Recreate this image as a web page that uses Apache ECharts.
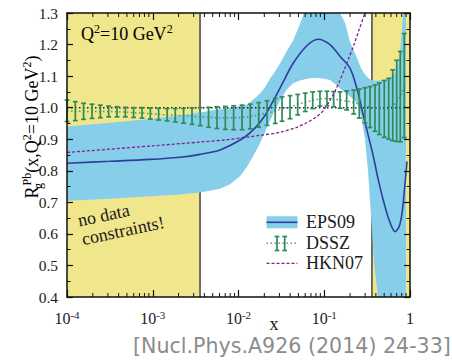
<!DOCTYPE html>
<html><head><meta charset="utf-8">
<script src="https://cdn.jsdelivr.net/npm/echarts@6/dist/echarts.min.js"></script>
<style>html,body{margin:0;padding:0;background:#fff}#c{width:452px;height:360px}</style>
</head><body><div id="c"></div>
<script>
// ---------------- data ----------------
// EPS09 uncertainty band
const bandX = [1e-4, 3.17e-4, 9.29e-4, 2.08e-3, 3.56e-3, 6.08e-3, 7.96e-3, 0.0104, 0.01256, 0.01476,
  0.01782, 0.02037, 0.0233, 0.02664, 0.03047, 0.0368, 0.04321, 0.05216, 0.05966, 0.06823,
  0.08228, 0.09923, 0.1167, 0.1371, 0.1525, 0.1744, 0.1995, 0.2283, 0.2408, 0.2683,
  0.2986, 0.3236, 0.3508, 0.3802, 0.4238, 0.4712, 0.5248, 0.5842, 0.6501, 0.7239,
  0.764, 0.8068, 0.829, 0.875, 0.898];
const bandLower = [0.705, 0.711, 0.719, 0.725, 0.731, 0.743, 0.757, 0.783, 0.813, 0.845,
  0.887, 0.922, 0.958, 0.993, 1.022, 1.058, 1.077, 1.086, 1.090, 1.093,
  1.094, 1.092, 1.088, 1.073, 1.061, 1.048, 1.035, 1.022, 1.015, 0.975,
  0.900, 0.800, 0.660, 0.510, 0.400, 0.330, 0.300, 0.300, 0.300, 0.300,
  0.300, 0.300, 0.300, 0.300, 0.300];
const bandUpper = [0.940, 0.952, 0.964, 0.976, 0.985, 0.995, 1.000, 1.005, 1.010, 1.024,
  1.045, 1.065, 1.092, 1.115, 1.140, 1.180, 1.212, 1.265, 1.310, 1.350,
  1.380, 1.380, 1.360, 1.320, 1.300, 1.270, 1.209, 1.172, 1.158, 1.125,
  1.105, 1.095, 1.088, 1.085, 1.086, 1.088, 1.090, 1.095, 1.105, 1.140,
  1.175, 1.250, 1.300, 1.400, 1.450];
// EPS09 central value
const eps09X = [1e-4, 3.17e-4, 9.29e-4, 2.08e-3, 3.56e-3, 6.08e-3, 0.01127, 0.01556, 0.02037, 0.02523,
  0.03302, 0.04321, 0.06295, 0.08459, 0.1167, 0.1525, 0.1995, 0.2408, 0.2830, 0.3236,
  0.3705, 0.4238, 0.4846, 0.5690, 0.6683, 0.7443, 0.8068, 0.8750, 0.9230];
const eps09Y = [0.824, 0.830, 0.836, 0.843, 0.852, 0.866, 0.903, 0.935, 0.975, 1.020,
  1.080, 1.140, 1.197, 1.217, 1.200, 1.163, 1.125, 1.060, 0.980, 0.915,
  0.850, 0.775, 0.710, 0.645, 0.607, 0.622, 0.665, 0.760, 0.830];
// DSSZ central value and error bars
const dsszX = [1e-4, 1.25e-4, 1.56e-4, 1.96e-4, 2.45e-4, 3.06e-4, 3.83e-4, 4.79e-4, 5.98e-4, 7.5e-4,
  9.36e-4, 1.17e-3, 1.47e-3, 1.83e-3, 2.29e-3, 2.87e-3, 3.58e-3, 4.48e-3, 5.61e-3, 7.02e-3,
  8.77e-3, 0.011, 0.0137, 0.0172, 0.0215, 0.0268, 0.0322, 0.0399, 0.049, 0.0601,
  0.0733, 0.0891, 0.1076, 0.1288, 0.1527, 0.1827, 0.2205, 0.2562, 0.2986, 0.3417,
  0.3908, 0.4385, 0.5012, 0.5645, 0.6288, 0.6998, 0.7705, 0.857];
const dsszY = [0.990, 0.989, 0.988, 0.988, 0.988, 0.988, 0.987, 0.986, 0.984, 0.983,
  0.981, 0.979, 0.977, 0.976, 0.974, 0.973, 0.971, 0.970, 0.968, 0.968,
  0.968, 0.969, 0.972, 0.977, 0.983, 0.990, 0.996, 1.002, 1.010, 1.017,
  1.023, 1.028, 1.029, 1.027, 1.024, 1.021, 1.016, 1.012, 1.007, 1.002,
  0.998, 0.997, 0.996, 0.997, 1.005, 1.020, 1.035, 1.070];
const dsszLow = [0.956, 0.959, 0.963, 0.966, 0.968, 0.971, 0.971, 0.971, 0.969, 0.967,
  0.964, 0.961, 0.958, 0.955, 0.951, 0.947, 0.943, 0.938, 0.934, 0.931,
  0.930, 0.930, 0.933, 0.938, 0.944, 0.950, 0.957, 0.965, 0.977, 0.988,
  0.997, 1.005, 1.006, 1.003, 0.998, 0.993, 0.980, 0.967, 0.952, 0.937,
  0.925, 0.915, 0.906, 0.900, 0.895, 0.893, 0.892, 0.905];
const dsszHigh = [1.024, 1.019, 1.014, 1.011, 1.008, 1.005, 1.003, 1.001, 1.000, 1.000,
  0.999, 0.998, 0.997, 0.997, 0.998, 0.999, 1.000, 1.001, 1.003, 1.004,
  1.006, 1.008, 1.011, 1.016, 1.022, 1.029, 1.034, 1.038, 1.042, 1.046,
  1.050, 1.052, 1.052, 1.051, 1.050, 1.053, 1.056, 1.059, 1.063, 1.067,
  1.072, 1.078, 1.086, 1.093, 1.120, 1.150, 1.178, 1.235];
// HKN07
const hknX = [1e-4, 1e-3, 3.56e-3, 7.14e-3, 0.01734, 0.0305, 0.0469, 0.063, 0.0803, 0.0969,
  0.1138, 0.1334, 0.1485, 0.1698, 0.1944, 0.2223, 0.2541, 0.3068, 0.3604];
const hknY = [0.858, 0.879, 0.891, 0.898, 0.912, 0.922, 0.937, 0.953, 0.970, 0.990,
  1.018, 1.052, 1.080, 1.118, 1.158, 1.200, 1.246, 1.310, 1.370];
// regions without data constraints (x ranges)
const noDataRegions = [[1e-4, 0.00356], [0.36, 1]];
const refLineY = [1.0];
// axes
const xMin = 1e-4, xMax = 1;
const yMin = 0.4, yMax = 1.3, yStep = 0.1;
const xMinorTicks = [2e-4,3e-4,4e-4,5e-4,6e-4,7e-4,8e-4,9e-4,
  2e-3,3e-3,4e-3,5e-3,6e-3,7e-3,8e-3,9e-3,
  2e-2,3e-2,4e-2,5e-2,6e-2,7e-2,8e-2,9e-2,
  0.2,0.3,0.4,0.5,0.6,0.7,0.8,0.9];
const legendNames = ['EPS09', 'DSSZ', 'HKN07'];

// ---------------- style ----------------
const SERIF = '"Liberation Serif", "DejaVu Serif", serif';
const C_YELLOW = '#f0e68c', C_BAND = '#87ceeb', C_EPS = '#2f3e9c', C_DSSZ = '#2e8b57', C_HKN = '#8b1a8b';
const TXT = '#1a1a1a';

const chart = echarts.init(document.getElementById('c'), null, {renderer: 'svg'});

function xLabelFmt(v) {
  const e = Math.round(Math.log10(v));
  if (e === 0) return '{m|1}';
  return '{m|10}{s|' + e + '}';
}
const xRich = {
  m: {fontFamily: SERIF, fontSize: 16, color: TXT, verticalAlign: 'bottom', lineHeight: 18},
  s: {fontFamily: SERIF, fontSize: 11, color: TXT, verticalAlign: 'bottom', lineHeight: 18, padding: [0, 0, 6, 0]}
};
const axLine = {show: true, lineStyle: {color: '#111', width: 1.5}};
const xTick = {show: true, inside: true, length: 7, lineStyle: {color: '#111', width: 1.2}};
const yTick = {show: true, inside: true, length: 6, lineStyle: {color: '#111', width: 1.2}};
const yMinor = {show: true, splitNumber: 2, length: 3.5, lineStyle: {color: '#111', width: 1}};

const serifRich = {
  m: {fontFamily: SERIF, fontSize: 18, color: TXT, verticalAlign: 'bottom', lineHeight: 22},
  sup: {fontFamily: SERIF, fontSize: 12, color: TXT, verticalAlign: 'bottom', lineHeight: 22, padding: [0, 0, 8, 0]},
  sub: {fontFamily: SERIF, fontSize: 12, color: TXT, verticalAlign: 'bottom', lineHeight: 22, width: 1, padding: [0, 0, -3, 0]}
};

const option = {
  animation: false,
  backgroundColor: '#fff',
  grid: {left: 67, right: 42, top: 13, bottom: 63},
  xAxis: [
    {type: 'log', logBase: 10, min: xMin, max: xMax, position: 'bottom', z: 10,
      axisLine: axLine, axisTick: xTick, splitLine: {show: false},
      axisLabel: {formatter: xLabelFmt, rich: xRich, margin: 11, showMinLabel: true, showMaxLabel: true}},
    {type: 'log', logBase: 10, min: xMin, max: xMax, position: 'top', z: 10,
      axisLine: axLine, axisTick: xTick, splitLine: {show: false}, axisLabel: {show: false}}
  ],
  yAxis: [
    {type: 'value', min: yMin, max: yMax, interval: yStep, position: 'left', z: 10,
      axisLine: axLine, axisTick: yTick, minorTick: yMinor, splitLine: {show: false},
      axisLabel: {formatter: v => v.toFixed(1), fontFamily: SERIF, fontSize: 15.5, color: TXT, margin: 9}},
    {type: 'value', min: yMin, max: yMax, interval: yStep, position: 'right', z: 10,
      axisLine: axLine, axisTick: yTick, minorTick: yMinor, splitLine: {show: false},
      axisLabel: {show: false}}
  ],
  series: [
    { // yellow "no data" regions
      type: 'custom', name: 'noData', z: 1, silent: true,
      data: noDataRegions.map(r => [r[0], r[1]]),
      encode: {x: [0, 1]},
      renderItem(params, api) {
        const x0 = api.value(0), x1 = api.value(1);
        const p0 = api.coord([x0, yMax]), p1 = api.coord([x1, yMin]);
        const children = [{type: 'rect', shape: {x: p0[0], y: p0[1], width: p1[0] - p0[0], height: p1[1] - p0[1]},
          style: {fill: C_YELLOW}}];
        if (x0 > xMin) children.push({type: 'line', shape: {x1: p0[0], y1: p0[1], x2: p0[0], y2: p1[1]}, style: {stroke: '#444', lineWidth: 1.5}});
        if (x1 < xMax) children.push({type: 'line', shape: {x1: p1[0], y1: p0[1], x2: p1[0], y2: p1[1]}, style: {stroke: '#444', lineWidth: 1.5}});
        return {type: 'group', children};
      }
    },
    { // EPS09 band
      type: 'custom', name: 'EPS09 band', z: 2, silent: true, clip: true,
      data: bandX.map((x, i) => [x, bandLower[i], bandUpper[i]]),
      encode: {x: 0, y: [1, 2]},
      renderItem(params, api) {
        if (params.dataIndex !== 0) return;
        const pts = [];
        for (let i = 0; i < bandX.length; i++) pts.push(api.coord([bandX[i], bandUpper[i]]));
        for (let i = bandX.length - 1; i >= 0; i--) pts.push(api.coord([bandX[i], bandLower[i]]));
        const cs = params.coordSys;
        return {type: 'polygon', shape: {points: pts}, style: {fill: C_BAND},
          clipPath: {type: 'rect', shape: {x: cs.x, y: cs.y, width: cs.width, height: cs.height}}};
      }
    },
    { // reference line at 1
      type: 'line', name: 'ref', z: 3, silent: true, symbol: 'none',
      data: [[xMin, refLineY[0]], [xMax, refLineY[0]]],
      lineStyle: {color: '#222', width: 1.5, type: [1.5, 2.5]}
    },
    { // EPS09 central
      type: 'line', name: 'EPS09', z: 4, symbol: 'none', smooth: 0.3, clip: true,
      data: eps09X.map((x, i) => [x, eps09Y[i]]),
      lineStyle: {color: C_EPS, width: 1.6}
    },
    { // DSSZ central
      type: 'line', name: 'DSSZ', z: 5, symbol: 'none', smooth: 0.3, clip: true,
      data: dsszX.map((x, i) => [x, dsszY[i]]),
      lineStyle: {color: C_DSSZ, width: 1.5, type: [1.5, 2.5], opacity: 0.8}
    },
    { // DSSZ error bars
      type: 'custom', name: 'DSSZ bars', z: 6, silent: true,
      data: dsszX.map((x, i) => [x, dsszLow[i], dsszHigh[i]]),
      encode: {x: 0, y: [1, 2]},
      renderItem(params, api) {
        const x = api.value(0);
        const lo = api.coord([x, api.value(1)]), hi = api.coord([x, api.value(2)]);
        const w = 2.4, st = {stroke: C_DSSZ, lineWidth: 1.7};
        return {type: 'group', children: [
          {type: 'line', shape: {x1: lo[0], y1: lo[1], x2: hi[0], y2: hi[1]}, style: st},
          {type: 'line', shape: {x1: lo[0] - w, y1: lo[1], x2: lo[0] + w, y2: lo[1]}, style: st},
          {type: 'line', shape: {x1: hi[0] - w, y1: hi[1], x2: hi[0] + w, y2: hi[1]}, style: st}
        ]};
      }
    },
    { // HKN07
      type: 'line', name: 'HKN07', z: 7, symbol: 'none', smooth: 0.3, clip: true,
      data: hknX.map((x, i) => [x, hknY[i]]),
      lineStyle: {color: C_HKN, width: 1.3, type: [3, 2]}
    },
    { // minor ticks on log x axis (bottom and top)
      type: 'custom', name: 'xminor', z: 20, silent: true,
      data: xMinorTicks.map(v => [v, yMin]),
      encode: {x: 0, y: 1},
      renderItem(params, api) {
        const p = api.coord([api.value(0), yMin]);
        const cs = params.coordSys;
        const st = {stroke: '#111', lineWidth: 1};
        return {type: 'group', children: [
          {type: 'line', shape: {x1: p[0], y1: cs.y + cs.height, x2: p[0], y2: cs.y + cs.height - 4}, style: st},
          {type: 'line', shape: {x1: p[0], y1: cs.y, x2: p[0], y2: cs.y + 4}, style: st}
        ]};
      }
    }
  ],
  graphic: [
    // y axis title
    {type: 'text', x: 30, y: 127, rotation: Math.PI / 2, z: 50,
      style: {text: '{m|R}{sub|g}{sup|Pb}{m|(x,Q}{sup|2}{m|=10 GeV}{sup|2}{m|)}', rich: serifRich,
        align: 'center', verticalAlign: 'middle'}},
    // x axis title
    {type: 'text', x: 274, y: 324, z: 50,
      style: {text: 'x', font: '18px ' + SERIF, fill: TXT, align: 'center', verticalAlign: 'middle'}},
    // Q2 annotation
    {type: 'text', x: 81, y: 32, z: 50,
      style: {text: '{m|Q}{sup|2}{m|=10 GeV}{sup|2}', rich: serifRich, align: 'left', verticalAlign: 'middle'}},
    // no data constraints
    {type: 'text', x: 80, y: 230, rotation: 0.21, z: 50,
      style: {text: 'no data\nconstraints!', font: '18px ' + SERIF, fill: TXT, lineHeight: 19,
        align: 'left', verticalAlign: 'middle'}},
    // legend
    {type: 'group', z: 50, children: [
      {type: 'rect', shape: {x: 266.5, y: 216.3, width: 31, height: 12}, style: {fill: C_BAND}},
      {type: 'line', shape: {x1: 266.5, y1: 222.3, x2: 297.5, y2: 222.3}, style: {stroke: C_EPS, lineWidth: 1.6}},
      {type: 'line', shape: {x1: 266.5, y1: 243.3, x2: 297.5, y2: 243.3}, style: {stroke: C_DSSZ, lineWidth: 1.5, lineDash: [1.5, 2.5], opacity: 0.8}},
      {type: 'line', shape: {x1: 277, y1: 236.5, x2: 277, y2: 250.5}, style: {stroke: C_DSSZ, lineWidth: 1.7}},
      {type: 'line', shape: {x1: 274.6, y1: 236.5, x2: 279.4, y2: 236.5}, style: {stroke: C_DSSZ, lineWidth: 1.7}},
      {type: 'line', shape: {x1: 274.6, y1: 250.5, x2: 279.4, y2: 250.5}, style: {stroke: C_DSSZ, lineWidth: 1.7}},
      {type: 'line', shape: {x1: 284.7, y1: 236.5, x2: 284.7, y2: 250.5}, style: {stroke: C_DSSZ, lineWidth: 1.7}},
      {type: 'line', shape: {x1: 282.3, y1: 236.5, x2: 287.1, y2: 236.5}, style: {stroke: C_DSSZ, lineWidth: 1.7}},
      {type: 'line', shape: {x1: 282.3, y1: 250.5, x2: 287.1, y2: 250.5}, style: {stroke: C_DSSZ, lineWidth: 1.7}},
      {type: 'line', shape: {x1: 266.5, y1: 263.3, x2: 297.5, y2: 263.3}, style: {stroke: C_HKN, lineWidth: 1.3, lineDash: [3, 2]}},
      {type: 'text', x: 306, y: 222.3, style: {text: legendNames[0], font: '18px ' + SERIF, fill: TXT, verticalAlign: 'middle'}},
      {type: 'text', x: 306, y: 243.3, style: {text: legendNames[1], font: '18px ' + SERIF, fill: TXT, verticalAlign: 'middle'}},
      {type: 'text', x: 306, y: 263.3, style: {text: legendNames[2], font: '18px ' + SERIF, fill: TXT, verticalAlign: 'middle'}}
    ]},
    // citation
    {type: 'text', x: 133, y: 346, z: 50,
      style: {text: '[Nucl.Phys.A926 (2014) 24-33]', font: '20.6px "DejaVu Sans"', fill: '#8c8c8c', verticalAlign: 'middle'}}
  ]
};
chart.setOption(option);
</script>
</body></html>
